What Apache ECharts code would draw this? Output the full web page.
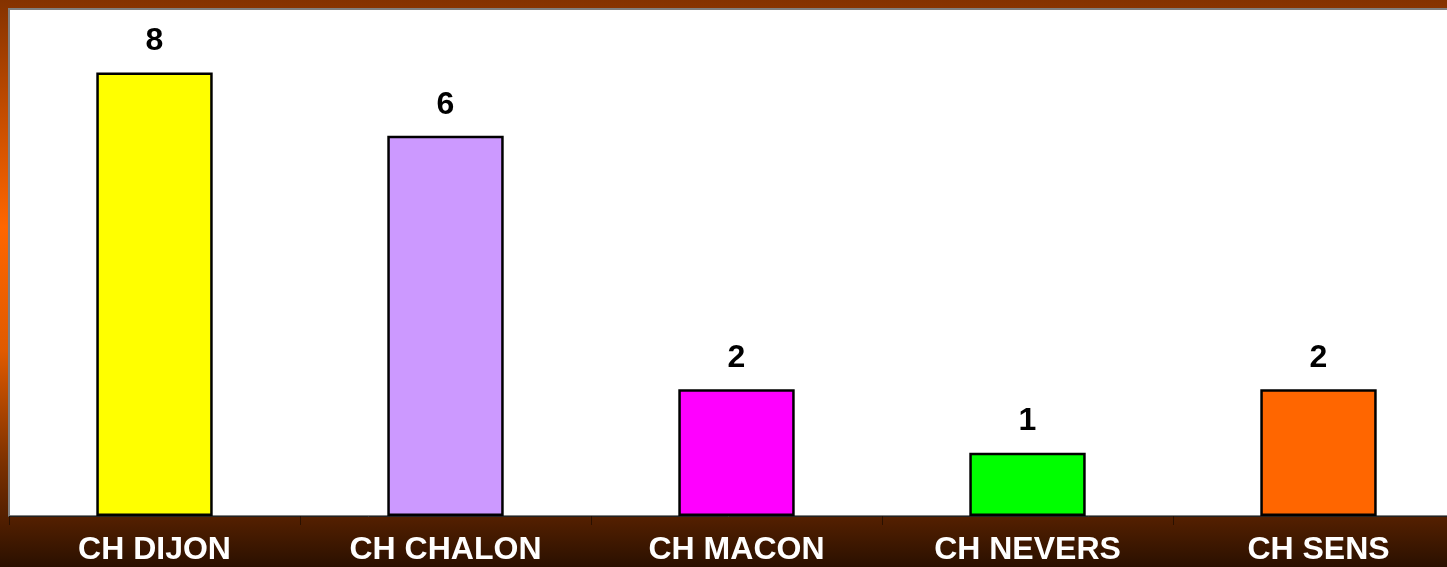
<!DOCTYPE html>
<html>
<head>
<meta charset="utf-8">
<script src="https://cdn.jsdelivr.net/npm/echarts@6/dist/echarts.min.js"></script>
<style>
  html, body { margin: 0; padding: 0; overflow: hidden; }
  #chart {
    width: 1447px;
    height: 567px;
    background: linear-gradient(to bottom, #843200 0%, #c44c00 20%, #ff6600 40%, #e05a00 62%, #7a3000 82%, #552000 91%, #2a1000 100%);
  }
</style>
</head>
<body>
<div id="chart"></div>
<script>
// catégories et valeurs
const categories = ['CH DIJON', 'CH CHALON', 'CH MACON', 'CH NEVERS', 'CH SENS'];
const values = [7, 6, 2, 1, 2];
// étiquettes affichées au-dessus des barres
const valueLabels = ['8', '6', '2', '1', '2'];
const barColors = ['#ffff00', '#cc99ff', '#ff00ff', '#00ff00', '#ff6600'];

const chart = echarts.init(document.getElementById('chart'));

const option = {
  animation: false,
  grid: {
    left: 9,
    top: 9,
    right: -17,
    bottom: 51,
    outerBoundsMode: 'none',
    containLabel: false,
    show: true,
    backgroundColor: '#ffffff',
    borderColor: '#808080',
    borderWidth: 2
  },
  xAxis: {
    type: 'category',
    data: categories,
    axisLine: { lineStyle: { color: '#222222', width: 1 } },
    axisTick: { show: true, length: 9, lineStyle: { color: '#2a1000' } },
    axisLabel: {
      color: '#ffffff',
      fontFamily: 'Liberation Sans',
      fontWeight: 'bold',
      fontSize: 32,
      margin: 18
    }
  },
  yAxis: {
    type: 'value',
    min: 0,
    max: 8,
    show: false,
    splitLine: { show: false }
  },
  series: [{
    type: 'bar',
    barWidth: '40%',
    data: values.map((v, i) => ({
      value: v,
      itemStyle: { color: barColors[i] }
    })),
    itemStyle: { borderColor: '#000000', borderWidth: 2.5 },
    label: {
      show: true,
      position: 'top',
      distance: 15,
      color: '#000000',
      fontFamily: 'Liberation Sans',
      fontWeight: 'bold',
      fontSize: 32,
      formatter: p => valueLabels[p.dataIndex]
    }
  }]
};

chart.setOption(option);
</script>
</body>
</html>
